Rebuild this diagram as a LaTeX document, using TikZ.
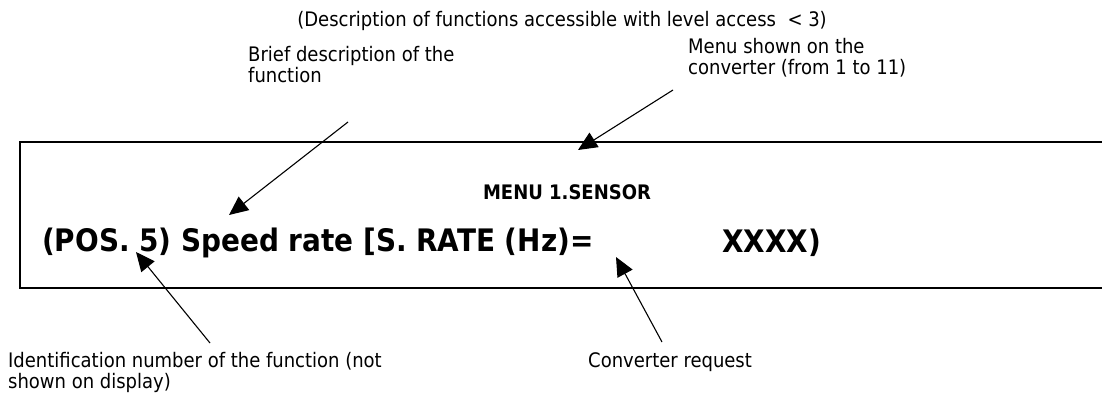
\documentclass[tikz,border=0pt]{standalone}
\usepackage{fontspec}
\setmainfont{DejaVu Sans Condensed}
\usetikzlibrary{arrows.meta}
\begin{document}
\begin{tikzpicture}[x=1pt,y=-1pt,
  lbl/.style={anchor=north west,inner sep=0pt,align=left,font=\fontsize{20}{21}\selectfont},
  ptr/.style={line width=1.1pt,-{Triangle[length=19pt,width=17pt]}},
  frame/.style={line width=1.8pt}]
\useasboundingbox (0,0) rectangle (1102,398);
\node[anchor=center,inner sep=0pt,font=\fontsize{20}{22}\selectfont] (title) at (562,21) {(Description of functions accessible with level access ~< 3)};
\node[lbl] (brief) at (248,46) {Brief description of the\\function};
\node[lbl] (menu) at (688,38) {Menu shown on the\\converter (from 1 to 11)};
\draw[frame] (1102,142) -- (20,142) -- (20,288) -- (1102,288);
\node[anchor=center,inner sep=0pt,font=\bfseries\fontsize{20}{22}\selectfont] (menutitle) at (567,192) {MENU 1.SENSOR};
\node[anchor=west,inner sep=0pt,font=\bfseries\fontsize{31}{34}\selectfont] (line) at (42,243) {(POS. 5) Speed rate [S. RATE (Hz)=};
\node[anchor=west,inner sep=0pt,font=\bfseries\fontsize{31}{34}\selectfont] (xxxx) at (722,243) {XXXX)};
\node[lbl] (ident) at (8,352) {Identification number of the function (not\\shown on display)};
\node[lbl] (conv) at (588,352) {Converter request};
\coordinate (b0) at (348,122); \coordinate (b1) at (229,215);
\coordinate (m0) at (673,90); \coordinate (m1) at (578,150);
\coordinate (i0) at (210,343); \coordinate (i1) at (136,252);
\coordinate (c0) at (662,342); \coordinate (c1) at (616,257);
\draw[ptr] (b0) -- (b1);
\draw[ptr] (m0) -- (m1);
\draw[ptr] (i0) -- (i1);
\draw[ptr] (c0) -- (c1);
\end{tikzpicture}
\end{document}
